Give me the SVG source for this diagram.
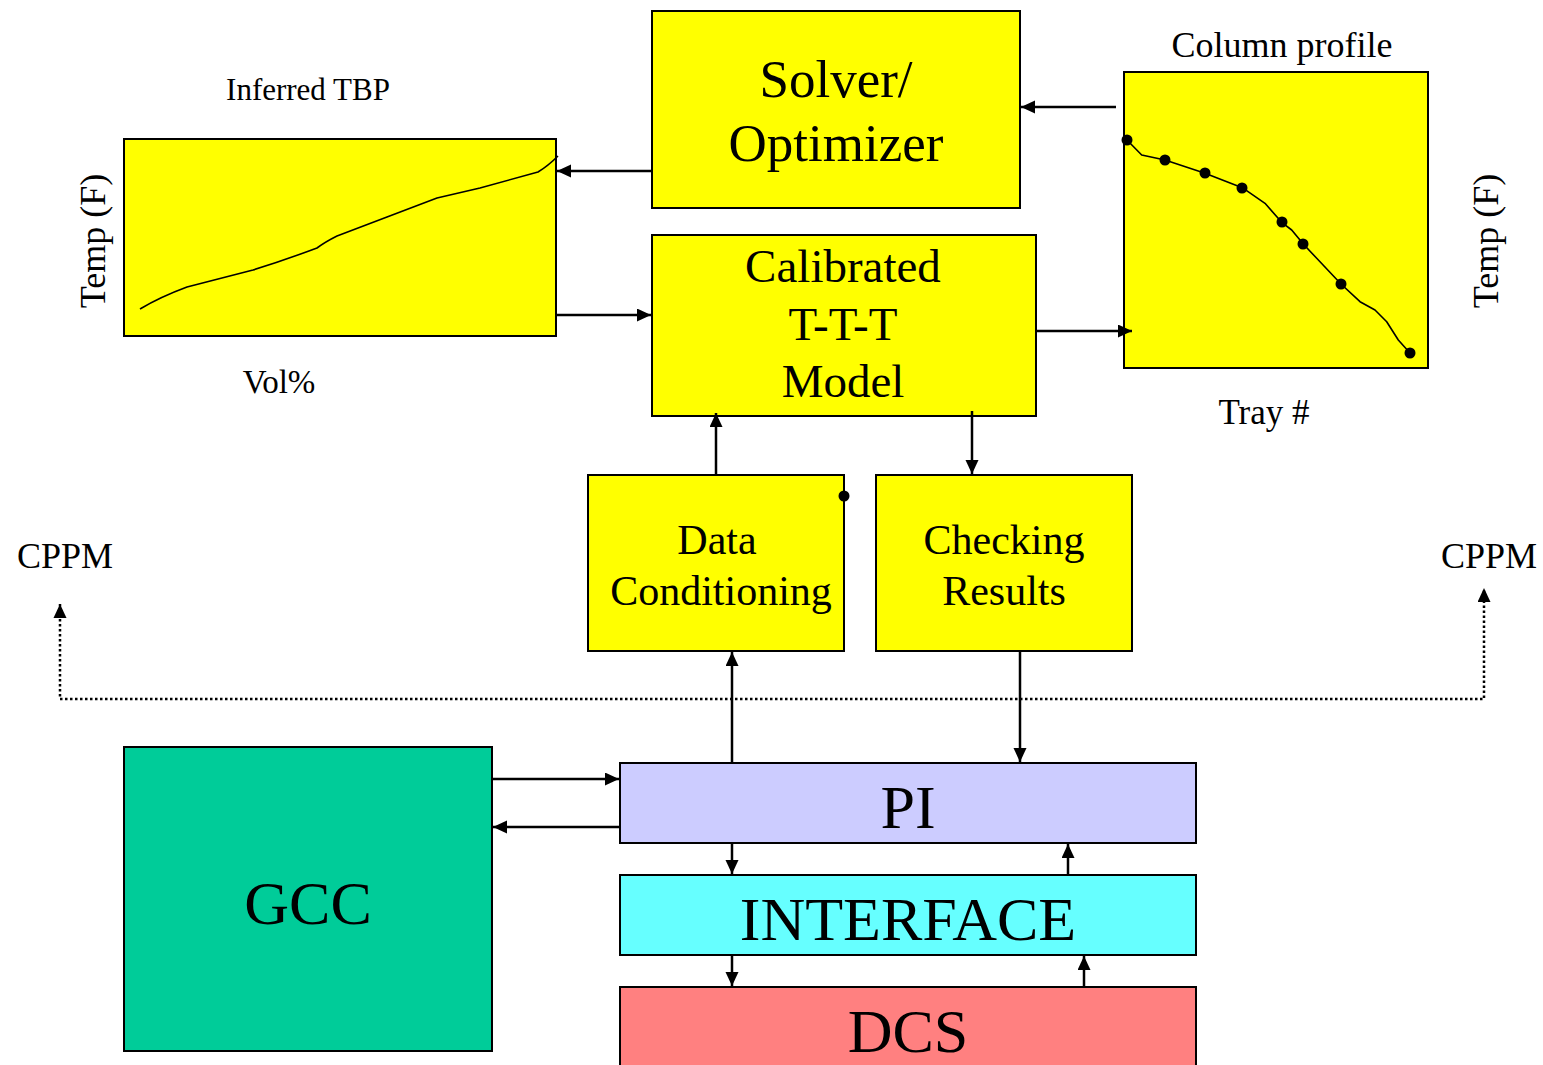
<svg xmlns="http://www.w3.org/2000/svg" width="1543" height="1065" viewBox="0 0 1543 1065">
<style>
.box{stroke:#000;stroke-width:2}
.y{fill:#FFFF00}
text{font-family:"Liberation Serif","Times New Roman",serif;fill:#000;text-anchor:middle}
.c{stroke:#000;stroke-width:2.5;fill:none;marker-end:url(#ah)}
.d{stroke:#000;stroke-width:2.5;fill:none;stroke-dasharray:2.5 2.5;marker-start:url(#ah2);marker-end:url(#ah)}
.crv{stroke:#000;stroke-width:1.6;fill:none;stroke-linejoin:round}
</style>
<defs>
<marker id="ah" markerUnits="userSpaceOnUse" markerWidth="16" markerHeight="14" refX="14" refY="6.5" orient="auto"><path d="M0,0 L14,6.5 L0,13 z" fill="#000"/></marker>
<marker id="ah2" markerUnits="userSpaceOnUse" markerWidth="16" markerHeight="14" refX="0" refY="6.5" orient="auto"><path d="M14,0 L0,6.5 L14,13 z" fill="#000"/></marker>
</defs>
<rect width="1543" height="1065" fill="#fff"/>

<g id="tbp-chart">
<rect class="box y" x="124" y="139" width="432" height="197"/>
<path class="crv" d="M140,309 Q160,297 187,287 L253,270 Q285,260 317,248 Q325,242 337,236 L387,217 L437,198 L480,188 L538,172 Q548,166 558,156"/>
<text x="308" y="100" font-size="31">Inferred TBP</text>
<text x="279" y="393" font-size="33">Vol%</text>
<text transform="translate(105,241) rotate(-90)" font-size="36">Temp (F)</text>
</g>

<g id="solver">
<rect class="box y" x="652" y="11" width="368" height="197"/>
<text x="836" y="97" font-size="53">Solver/</text>
<text x="836" y="161" font-size="53">Optimizer</text>
</g>

<g id="column-profile">
<rect class="box y" x="1124" y="72" width="304" height="296"/>
<polyline class="crv" points="1127,140 1141.7,155 1165,160 1205,173.3 1242.3,187.7 1265,203.3 1281.7,222.3 1291.7,230 1303.3,244 1316.7,258.3 1341,284 1360,301.7 1375,310 1386.7,321.7 1398.3,340 1410,353"/>
<g fill="#000">
<circle cx="1127" cy="140" r="5.5"/><circle cx="1165" cy="160" r="5.5"/><circle cx="1205" cy="173" r="5.5"/><circle cx="1242" cy="188" r="5.5"/><circle cx="1282" cy="222" r="5.5"/><circle cx="1303" cy="244" r="5.5"/><circle cx="1341" cy="284" r="5.5"/><circle cx="1410" cy="353" r="5.5"/>
</g>
<text x="1282" y="57" font-size="36">Column profile</text>
<text x="1264" y="424" font-size="35">Tray #</text>
<text transform="translate(1498,241) rotate(-90)" font-size="36">Temp (F)</text>
</g>

<g id="calibrated">
<rect class="box y" x="652" y="235" width="384" height="181"/>
<text x="843" y="282" font-size="47">Calibrated</text>
<text x="843" y="340" font-size="47">T-T-T</text>
<text x="843" y="397" font-size="47">Model</text>
</g>

<g id="data-conditioning">
<rect class="box y" x="588" y="475" width="256" height="176"/>
<circle cx="844" cy="496" r="5.5" fill="#000"/>
<text x="717" y="554" font-size="42">Data</text>
<text x="721" y="605" font-size="42">Conditioning</text>
</g>

<g id="checking-results">
<rect class="box y" x="876" y="475" width="256" height="176"/>
<text x="1004" y="554" font-size="42">Checking</text>
<text x="1004" y="605" font-size="42">Results</text>
</g>

<g id="cppm-left"><text x="65" y="568" font-size="36">CPPM</text></g>
<g id="cppm-right"><text x="1489" y="568" font-size="36">CPPM</text></g>

<g id="gcc">
<rect class="box" fill="#00CC99" x="124" y="747" width="368" height="304"/>
<text x="308" y="924" font-size="62">GCC</text>
</g>

<g id="pi">
<rect class="box" fill="#CCCCFF" x="620" y="763" width="576" height="80"/>
<text x="908" y="828" font-size="62">PI</text>
</g>

<g id="interface">
<rect class="box" fill="#66FFFF" x="620" y="875" width="576" height="80"/>
<text x="908" y="940" font-size="62">INTERFACE</text>
</g>

<g id="dcs">
<rect class="box" fill="#FF8080" x="620" y="987" width="576" height="90"/>
<text x="908" y="1052" font-size="62">DCS</text>
</g>

<g id="connectors">
<line class="c" x1="652" y1="171" x2="557" y2="171"/>
<line class="c" x1="1116" y1="107" x2="1021" y2="107"/>
<line class="c" x1="556" y1="315" x2="651" y2="315"/>
<line class="c" x1="1036" y1="331" x2="1132" y2="331"/>
<line class="c" x1="716" y1="475" x2="716" y2="413"/>
<line class="c" x1="972" y1="411" x2="972" y2="474"/>
<line class="c" x1="732" y1="763" x2="732" y2="652"/>
<line class="c" x1="1020" y1="651" x2="1020" y2="762"/>
<line class="c" x1="492" y1="779" x2="619" y2="779"/>
<line class="c" x1="620" y1="827" x2="493" y2="827"/>
<line class="c" x1="732" y1="843" x2="732" y2="874"/>
<line class="c" x1="1068" y1="875" x2="1068" y2="844"/>
<line class="c" x1="732" y1="955" x2="732" y2="986"/>
<line class="c" x1="1084" y1="987" x2="1084" y2="956"/>
<path class="d" d="M60,604 L60,699 L1484,699 L1484,588"/>
</g>
</svg>
